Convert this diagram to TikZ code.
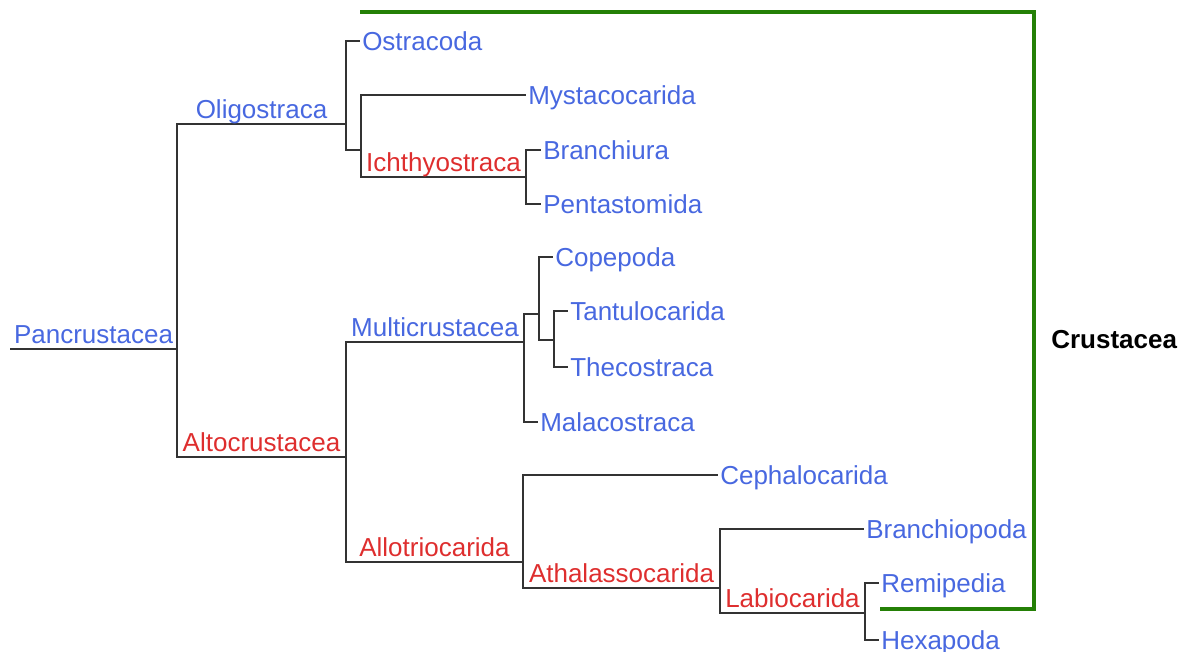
\documentclass[tikz,border=0pt]{standalone}
\usepackage{fontspec}
\setmainfont{Liberation Sans}
\usepackage{tikz}
\definecolor{taxonBlue}{RGB}{72,104,224}
\definecolor{taxonRed}{RGB}{222,46,46}
\definecolor{branchGray}{RGB}{51,51,51}
\definecolor{bracketGreen}{RGB}{36,128,6}
\tikzstyle{branch}=[draw=branchGray, line width=1.4pt]
\tikzstyle{bracket}=[draw=bracketGreen, line width=2.6pt]
\tikzstyle{leafNode}=[anchor=west, inner xsep=1.5pt, inner ysep=0pt, text height=14pt, text depth=0pt, text=taxonBlue, font=\fontsize{19.5}{20}\selectfont]
\tikzstyle{cladeNode}=[above, inner xsep=0pt, inner ysep=3.4pt, text height=14pt, text depth=0pt, font=\fontsize{19.5}{20}\selectfont]
\tikzstyle{blueClade}=[cladeNode, text=taxonBlue]
\tikzstyle{redClade}=[cladeNode, text=taxonRed]
\tikzstyle{groupNode}=[anchor=west, inner sep=0pt, font=\fontsize{19.5}{20}\selectfont\bfseries]

\begin{document}
\begin{tikzpicture}[x=0.75pt, y=-0.75pt]
\useasboundingbox (0,0) rectangle (1185,652);
\coordinate (root) at (10,349);
\coordinate (pan) at (177,349);
\coordinate (oli) at (346,124);
\coordinate (oliSub) at (361,150);
\coordinate (ichthy) at (526,177);
\coordinate (alto) at (346,457);
\coordinate (multi) at (524,342);
\coordinate (multiSub) at (539,314);
\coordinate (tantuSub) at (554,340);
\coordinate (allo) at (523,562);
\coordinate (athal) at (720,588);
\coordinate (labio) at (865,613);
\node (ostra) [leafNode] at (360,41) {Ostracoda};
\node (mysta) [leafNode] at (526,95) {Mystacocarida};
\node (branchiura) [leafNode] at (541,150) {Branchiura};
\node (penta) [leafNode] at (541,204) {Pentastomida};
\node (cope) [leafNode] at (553,257) {Copepoda};
\node (tantu) [leafNode] at (568,311) {Tantulocarida};
\node (theco) [leafNode] at (568,367) {Thecostraca};
\node (malaco) [leafNode] at (538,422) {Malacostraca};
\node (cephalo) [leafNode] at (718,475) {Cephalocarida};
\node (branchio) [leafNode] at (864,529) {Branchiopoda};
\node (remi) [leafNode] at (879,583) {Remipedia};
\node (hexa) [leafNode] at (879,640) {Hexapoda};
\draw[branch] (root) -- (pan) node[midway, blueClade] (panName) {Pancrustacea};
\draw[branch] (pan) |- (oli) node[pos=0.75, blueClade] (oliName) {Oligostraca};
\draw[branch] (pan) |- (alto) node[pos=0.75, redClade] (altoName) {Altocrustacea};
\draw[branch] (oli) |- (ostra.west);
\draw[branch] (oli) |- (oliSub);
\draw[branch] (oliSub) |- (mysta.west);
\draw[branch] (oliSub) |- (ichthy) node[pos=0.75, redClade] (ichthyName) {Ichthyostraca};
\draw[branch] (ichthy) |- (branchiura.west);
\draw[branch] (ichthy) |- (penta.west);
\draw[branch] (alto) |- (multi) node[pos=0.75, blueClade] (multiName) {Multicrustacea};
\draw[branch] (alto) |- (allo) node[pos=0.75, redClade] (alloName) {Allotriocarida};
\draw[branch] (multi) |- (multiSub);
\draw[branch] (multi) |- (malaco.west);
\draw[branch] (multiSub) |- (cope.west);
\draw[branch] (multiSub) |- (tantuSub);
\draw[branch] (tantuSub) |- (tantu.west);
\draw[branch] (tantuSub) |- (theco.west);
\draw[branch] (allo) |- (cephalo.west);
\draw[branch] (allo) |- (athal) node[pos=0.75, redClade] (athalName) {Athalassocarida};
\draw[branch] (athal) |- (branchio.west);
\draw[branch] (athal) |- (labio) node[pos=0.75, redClade] (labioName) {Labiocarida};
\draw[branch] (labio) |- (remi.west);
\draw[branch] (labio) |- (hexa.west);

\coordinate (bracketStart) at (360,12);
\coordinate (bracketCorner) at (1034,609);
\coordinate (bracketEnd) at (880,609);
\draw[bracket] (bracketStart) -| (bracketCorner) -- (bracketEnd);
\node (crustaceaName) [groupNode] at (1051,340) {Crustacea};
\end{tikzpicture}
\end{document}
